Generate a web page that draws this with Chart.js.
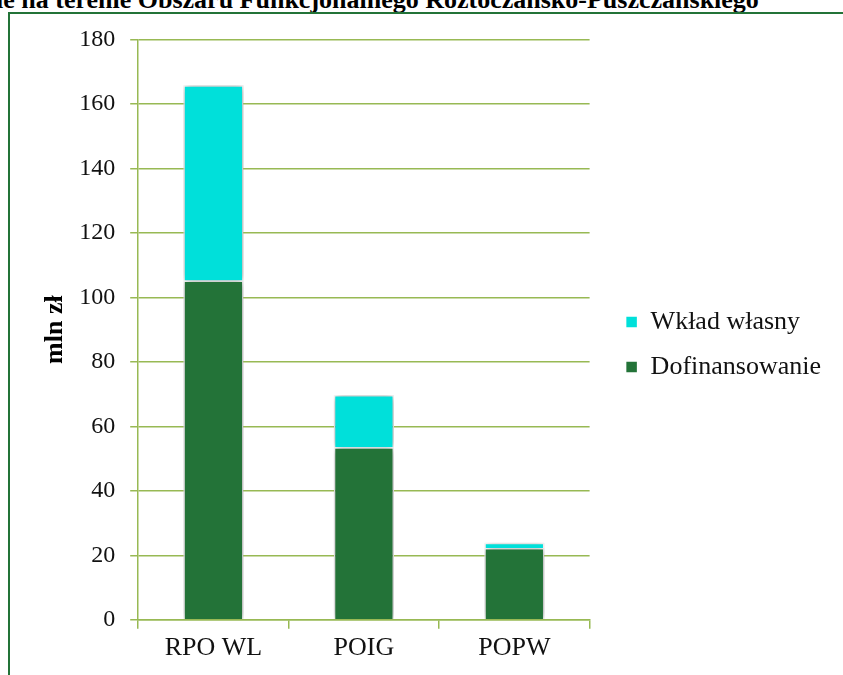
<!DOCTYPE html>
<html>
<head>
<meta charset="utf-8">
<script src="https://cdn.jsdelivr.net/npm/chart.js@4"></script>
<style>
	html, body { margin: 0; padding: 0; background: #fff; overflow: hidden; }
	#title {
		position: absolute; left: -4px; top: -15px; white-space: nowrap;
		font: bold 26px 'Liberation Serif', serif; color: #000;
	}
	#frame {
		position: absolute; left: 8px; top: 12px; width: 900px; height: 700px;
		border-left: 2px solid #237338; border-top: 2px solid #237338;
	}
	#wrap { position: absolute; left: 10px; top: 14px; width: 833px; height: 661px; }
</style>
</head>
<body>
<div id="title">ie na terenie Obszaru Funkcjonalnego Roztoczańsko-Puszczańskiego</div>
<div id="frame"></div>
<div id="wrap"><canvas id="chart1"></canvas></div>
<script>
'use strict'

const CATEGORIES = ['RPO WL', 'POIG', 'POPW']
const DOFINANSOWANIE = [105.2, 53.5, 22.3]
const WKLAD_WLASNY = [60.6, 16.2, 1.6]
const Y_TICKS = [0, 20, 40, 60, 80, 100, 120, 140, 160, 180]

const GRID = '#98b954'
const FONT = 'Liberation Serif, serif'

// soft grey shadow behind each bar
const barShadow = {
	id: 'barShadow',
	beforeDatasetsDraw(chart) {
		const c = chart.ctx
		c.save()
		c.shadowColor = 'rgba(0,0,0,0.4)'
		c.shadowBlur = 8
		c.shadowOffsetX = 1
		c.shadowOffsetY = 0
	},
	afterDatasetsDraw(chart) {
		chart.ctx.restore()
	}
}

const ctx = document.getElementById('chart1').getContext('2d')
new Chart(ctx, {
	type: 'bar',
	data: {
		labels: CATEGORIES,
		datasets: [{
			label: 'Dofinansowanie',
			data: DOFINANSOWANIE,
			backgroundColor: '#237338',
			borderColor: '#ffffff',
			borderWidth: 1.5
		}, {
			label: 'Wkład własny',
			data: WKLAD_WLASNY,
			backgroundColor: '#00e0da',
			borderColor: '#ffffff',
			borderWidth: 1.5
		}]
	},
	options: {
		responsive: true,
		maintainAspectRatio: false,
		animation: false,
		datasets: {
			bar: { categoryPercentage: 1, barPercentage: 0.4 }
		},
		layout: {
			padding: { top: 7, left: 26, right: 12, bottom: 7 }
		},
		scales: {
			x: {
				stacked: true,
				grid: { color: GRID, lineWidth: 1.5, drawOnChartArea: false, tickLength: 9, offset: true },
				border: { color: GRID, width: 1.5 },
				ticks: { color: '#111', font: { family: FONT, size: 26 }, padding: 4 }
			},
			y: {
				stacked: true,
				min: 0,
				max: 180,
				afterBuildTicks(axis) {
					axis.ticks = Y_TICKS.map(v => ({ value: v }))
				},
				// chart.js reserves the tick padding twice (and on top), take some back
				afterFit(axis) {
					axis.width -= 13
					axis.paddingTop -= 4
				},
				grid: { color: GRID, lineWidth: 1.5, tickLength: 8 },
				border: { color: GRID, width: 1.5 },
				ticks: { color: '#111', font: { family: FONT, size: 24 }, padding: 15 },
				title: {
					display: true,
					text: 'mln zł',
					color: '#000',
					font: { family: FONT, size: 26, weight: 'bold' },
					padding: { top: 4, bottom: 6 }
				}
			},
			// empty spacer between plot and legend
			gap: {
				position: 'right',
				display: true,
				grid: { display: false },
				border: { display: false },
				ticks: { display: false },
				afterFit(axis) { axis.width = 17 }
			}
		},
		plugins: {
			legend: {
				position: 'right',
				reverse: true,
				maxWidth: 300,
				labels: {
					color: '#111',
					boxWidth: 12,
					boxHeight: 12,
					padding: 19,
					font: { family: FONT, size: 26 }
				}
			},
			tooltip: { enabled: false }
		}
	},
	plugins: [barShadow]
})
</script>
</body>
</html>
